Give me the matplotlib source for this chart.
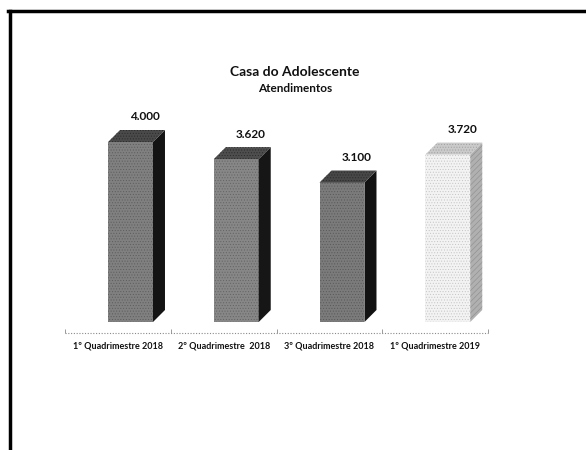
import matplotlib
matplotlib.use("Agg")
import matplotlib.pyplot as plt
from matplotlib.patches import Polygon
from matplotlib.lines import Line2D

plt.rcParams['font.family'] = ['Lato', 'DejaVu Sans']
plt.rcParams['hatch.linewidth'] = 0.4

categories = ["1º Quadrimestre 2018", "2º Quadrimestre  2018",
              "3º Quadrimestre 2018", "1º Quadrimestre 2019"]
values = [4000, 3620, 3100, 3720]
value_labels = ["4.000", "3.620", "3.100", "3.720"]

W, H = 586, 450
fig = plt.figure(figsize=(W / 100, H / 100), dpi=100)
fig.patch.set_facecolor("white")

# axes rectangle in pixels (left, bottom, width, height)
ax_l, ax_b, ax_w, ax_h = 65, 117, 423, 233
ax = fig.add_axes([ax_l / W, ax_b / H, ax_w / W, ax_h / H])
y_per_px = 1 / 0.045
ymin = -11 * y_per_px
ax.set_xlim(-0.5, len(categories) - 0.5)
ax.set_ylim(ymin, ymin + ax_h * y_per_px)
ax.set_facecolor("none")
for s in ax.spines.values():
    s.set_visible(False)

# 3-D box geometry (x in category units, y in value units)
x_px = (len(categories)) / ax_w
front_l = -0.093
front_r = 0.332
depth_x = 12 * x_px
depth_y = 12 * y_per_px

styles = [
    dict(front="#808080", fedge="#5c5c5c", side="#141414", top="#4a4a4a", tedge="#2a2a2a"),
    dict(front="#878787", fedge="#626262", side="#161616", top="#4e4e4e", tedge="#2a2a2a"),
    dict(front="#7b7b7b", fedge="#585858", side="#121212", top="#474747", tedge="#2a2a2a"),
    dict(front="#f3f3f3", fedge="#c4c4c4", side="#b0b0b0", top="#cacaca", tedge="#a0a0a0"),
]

for i, (v, st) in enumerate(zip(values, styles)):
    x0, x1 = i + front_l, i + front_r
    front = Polygon([(x0, 0), (x1, 0), (x1, v), (x0, v)], closed=True,
                    facecolor=st["front"], edgecolor=st["fedge"],
                    hatch="......", linewidth=0, clip_on=False)
    side = Polygon([(x1, 0), (x1 + depth_x, depth_y), (x1 + depth_x, v + depth_y), (x1, v)],
                   closed=True, facecolor=st["side"], edgecolor="#8c8c8c" if i == 3 else "#000000",
                   hatch="//////" if i == 3 else None, linewidth=0, clip_on=False)
    top = Polygon([(x0, v), (x1, v), (x1 + depth_x, v + depth_y), (x0 + depth_x, v + depth_y)],
                  closed=True, facecolor=st["top"], edgecolor=st["tedge"],
                  hatch="......", linewidth=0, clip_on=False)
    for p in (front, side, top):
        ax.add_patch(p)
    ax.text(i + 0.255, v + 25 * y_per_px, value_labels[i], ha="center", va="center",
            fontsize=8.5, fontweight="bold", color="#111111")

# floor line with category ticks
ax.axhline(ymin, color="#8a8a8a", linewidth=0.8, linestyle=(0, (1, 1.5)), clip_on=False)
ax.set_xticks([i - 0.5 for i in range(len(categories) + 1)], minor=False)
ax.set_xticklabels([])
ax.tick_params(axis="x", length=3, width=0.6, color="#8a8a8a", direction="in")
ax.set_xticks(range(len(categories)), minor=True)
ax.set_xticklabels(categories, minor=True, fontsize=6.5, fontweight="bold", color="#111111")
ax.tick_params(axis="x", which="minor", length=0, pad=6)
ax.set_yticks([])

# titles
fig.text(295 / W, 1 - 72 / H, "Casa do Adolescente", ha="center", va="center",
         fontsize=10, fontweight="bold", color="#111111")
fig.text(295 / W, 1 - 88 / H, "Atendimentos", ha="center", va="center",
         fontsize=8.5, fontweight="bold", color="#111111")

# page frame: top and left rules
fig.add_artist(Line2D([8 / W, 1], [1 - 11 / H, 1 - 11 / H], color="black", linewidth=2.5))
fig.add_artist(Line2D([10 / W, 10 / W], [0, 1 - 11 / H], color="black", linewidth=2.5))

fig.savefig("out.png", dpi=100)
